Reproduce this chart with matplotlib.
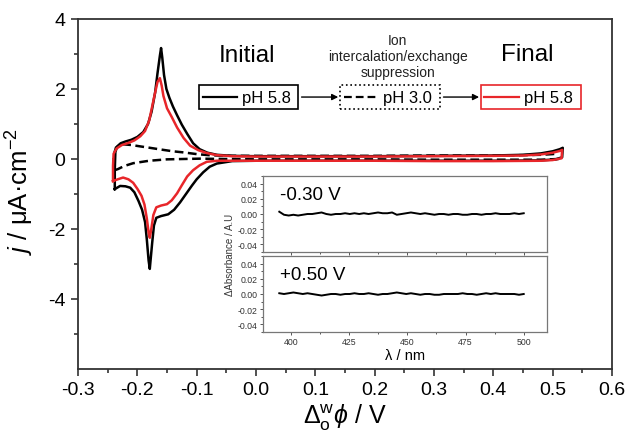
import numpy as np
import matplotlib
matplotlib.use("Agg")
import matplotlib.pyplot as plt
from matplotlib.patches import Rectangle

plt.rcParams['font.family'] = ['Liberation Sans', 'DejaVu Sans']
plt.rcParams['mathtext.fontset'] = 'custom'
plt.rcParams['mathtext.rm'] = 'Liberation Sans'
plt.rcParams['mathtext.it'] = 'Liberation Sans:italic'
plt.rcParams['mathtext.bf'] = 'Liberation Sans:bold'

# ---------------- data ----------------
# Initial pH 5.8 (black)
black_x = [-0.238, -0.238, -0.237, -0.234, -0.228, -0.220, -0.210, -0.200, -0.190, -0.182,
           -0.176, -0.170, -0.166, -0.162, -0.160, -0.158, -0.155, -0.151, -0.146, -0.140,
           -0.133, -0.125, -0.116, -0.106, -0.095, -0.082, -0.066, -0.040, 0.000, 0.100,
           0.200, 0.300, 0.400, 0.450, 0.480, 0.500, 0.512, 0.517,
           0.516, 0.505, 0.480, 0.400, 0.300, 0.200, 0.100, 0.000, -0.040, -0.066,
           -0.078, -0.089, -0.100, -0.108, -0.118, -0.128, -0.138, -0.148, -0.160, -0.168,
           -0.172, -0.175, -0.178, -0.179, -0.181, -0.184, -0.187, -0.192, -0.198, -0.205,
           -0.212, -0.220, -0.229, -0.238]
black_y = [-0.86, -0.30, 0.20, 0.36, 0.45, 0.50, 0.55, 0.63, 0.77, 1.00,
           1.35, 1.90, 2.45, 2.95, 3.17, 2.90, 2.40, 2.00, 1.75, 1.50,
           1.25, 0.98, 0.72, 0.45, 0.28, 0.18, 0.12, 0.09, 0.08, 0.08,
           0.08, 0.09, 0.10, 0.12, 0.16, 0.22, 0.28, 0.32,
           0.05, -0.01, -0.04, -0.05, -0.05, -0.05, -0.05, -0.05, -0.06, -0.13,
           -0.22, -0.38, -0.58, -0.76, -1.00, -1.24, -1.45, -1.58, -1.63, -1.68,
           -1.90, -2.40, -2.95, -3.14, -2.90, -2.30, -1.80, -1.45, -1.20, -0.95,
           -0.82, -0.78, -0.77, -0.86]

# Final pH 5.8 (red)
red_x = [-0.241, -0.241, -0.240, -0.235, -0.226, -0.215, -0.205, -0.195, -0.187, -0.180,
         -0.175, -0.170, -0.166, -0.162, -0.159, -0.156, -0.150, -0.142, -0.133, -0.122,
         -0.111, -0.097, -0.083, -0.066, -0.040, 0.000, 0.100, 0.200, 0.300, 0.400,
         0.450, 0.480, 0.500, 0.512, 0.516,
         0.515, 0.500, 0.480, 0.400, 0.300, 0.200, 0.100, 0.000, -0.040, -0.066,
         -0.083, -0.095, -0.106, -0.116, -0.125, -0.133, -0.142, -0.150, -0.160, -0.168,
         -0.173, -0.176, -0.179, -0.181, -0.184, -0.188, -0.193, -0.200, -0.207, -0.215,
         -0.224, -0.233, -0.241]
red_y = [-0.63, -0.20, 0.15, 0.30, 0.40, 0.46, 0.53, 0.65, 0.80, 1.10,
         1.50, 1.90, 2.20, 2.31, 2.10, 1.80, 1.45, 1.20, 0.90, 0.60,
         0.38, 0.25, 0.17, 0.11, 0.08, 0.07, 0.07, 0.07, 0.08, 0.09,
         0.10, 0.13, 0.18, 0.23, 0.26,
         0.02, -0.03, -0.05, -0.06, -0.06, -0.05, -0.05, -0.05, -0.05, -0.05,
         -0.08, -0.18, -0.32, -0.50, -0.75, -0.98, -1.18, -1.29, -1.33, -1.38,
         -1.60, -1.95, -2.25, -2.10, -1.70, -1.30, -1.05, -0.85, -0.68, -0.58,
         -0.53, -0.58, -0.63]

# pH 3.0 (dashed)
dash_x = [0.510, 0.480, 0.400, 0.300, 0.200, 0.100, 0.000, -0.050, -0.094, -0.123,
          -0.150, -0.180, -0.207, -0.222, -0.233, -0.240, -0.240, -0.236, -0.224, -0.210,
          -0.195, -0.179, -0.160, -0.140, -0.123, -0.100, -0.080, -0.066, -0.040, 0.000,
          0.100, 0.200, 0.300, 0.400, 0.450, 0.480, 0.500, 0.510]
dash_y = [0.00, -0.02, -0.02, -0.02, -0.01, -0.01, -0.01, 0.00, 0.01, 0.00,
          -0.01, -0.05, -0.12, -0.20, -0.29, -0.33, 0.10, 0.33, 0.42, 0.40,
          0.36, 0.32, 0.27, 0.22, 0.19, 0.14, 0.11, 0.10, 0.09, 0.09,
          0.09, 0.09, 0.10, 0.10, 0.11, 0.12, 0.14, 0.16]

# Inset spectra (delta absorbance, A.U), 395-500 nm
spec_neg030 = [0.003, -0.001, -0.002, -0.001, -0.002, -0.001, 0.000, 0.000, 0.001, 0.002,
               0.000, -0.001, 0.000, 0.000, 0.001, 0.000, 0.001, 0.000, 0.001, 0.000,
               0.001, 0.002, 0.001, 0.001, 0.002, -0.001, 0.000, 0.001, 0.002, 0.001,
               0.000, 0.001, 0.000, -0.001, 0.000, 0.000, -0.001, 0.000, 0.000, -0.001,
               -0.001, 0.000, 0.000, -0.001, 0.000, 0.000, 0.001, 0.000, 0.000, 0.000,
               0.001, 0.000, 0.001]
spec_pos050 = [0.001, 0.000, 0.001, 0.002, 0.001, 0.000, 0.001, 0.000, -0.001, -0.002,
               -0.001, 0.000, 0.000, -0.001, 0.000, 0.000, 0.001, 0.000, 0.000, 0.001,
               0.000, -0.001, 0.000, 0.000, 0.001, 0.002, 0.001, 0.000, 0.001, 0.000,
               -0.001, 0.000, 0.000, -0.001, -0.001, 0.000, 0.000, 0.000, 0.000, 0.001,
               0.000, 0.000, -0.001, 0.000, 0.001, 0.000, 0.001, 0.000, 0.000, 0.000,
               0.000, -0.001, 0.000]
spec_wl_range = (395, 500)

xticks_main = [-0.3, -0.2, -0.1, 0.0, 0.1, 0.2, 0.3, 0.4, 0.5, 0.6]
yticks_main = [-4, -2, 0, 2, 4]
inset_xticks = [400, 425, 450, 475, 500]
inset_yticks = [-0.04, -0.02, 0.00, 0.02, 0.04]
legend_labels = ['pH 5.8', 'pH 3.0', 'pH 5.8']

RED = '#e8262a'
SPINE = '#333333'

# ---------------- figure ----------------
fig = plt.figure(figsize=(6.27, 4.35), dpi=100)
ax = fig.add_axes([78/627, 1-370/435, 534/627, 350/435])

lw = 1.8
ax.plot(black_x, black_y, color='black', lw=lw, solid_joinstyle='round', zorder=3)
ax.plot(dash_x, dash_y, color='black', lw=lw, ls=(0, (3.5, 1.8)), zorder=3.5)
ax.plot(red_x, red_y, color=RED, lw=lw, solid_joinstyle='round', zorder=4)

ax.set_xlim(-0.3, 0.6)
ax.set_ylim(-6, 4)
ax.set_xticks(xticks_main)
ax.set_xticklabels([f"{v:.1f}" for v in xticks_main])
ax.set_xticks(np.arange(-0.25, 0.6, 0.1), minor=True)
ax.set_yticks(yticks_main)
ax.set_yticklabels([str(v) for v in yticks_main])
ax.set_yticks([-5, -3, -1, 1, 3], minor=True)
ax.tick_params(which='both', direction='out', color=SPINE, width=1.2, labelsize=14, pad=4)
ax.tick_params(which='major', length=5)
ax.tick_params(which='minor', length=3)
for s in ax.spines.values():
    s.set_color(SPINE)
    s.set_linewidth(1.3)

ax.set_ylabel(r"$j$ / μA·cm$^{-2}$", fontsize=18.5)
ax.yaxis.set_label_coords(-0.078, 0.51)
ax.set_xlabel(r"$\Delta_\mathrm{o}^\mathrm{w}\phi$ / V", fontsize=18, labelpad=2)

# annotations
ax.text(-0.015, 2.97, "Initial", fontsize=17.5, ha='center', va='center')
ax.text(0.458, 3.0, "Final", fontsize=17.5, ha='center', va='center')
ax.text(0.239, 2.95, "Ion\nintercalation/exchange\nsuppression", fontsize=10,
        ha='center', va='center', linespacing=1.2, color='#222222')

ybox0, ybox1 = 1.43, 2.11
ymid = (ybox0 + ybox1) / 2
boxes = [(-0.096, 0.0708, 'black', '-', 'black', '-'),
         (0.1416, 0.310, 'black', ':', 'black', (0, (3.5, 1.8))),
         (0.379, 0.548, RED, '-', RED, '-')]
for (x0, x1, ec, els, lc, lls), lab in zip(boxes, legend_labels):
    ax.add_patch(Rectangle((x0, ybox0), x1 - x0, ybox1 - ybox0, fill=False,
                           ec=ec, ls=els, lw=1.2, zorder=6))
    ax.plot([x0 + 0.006, x0 + 0.064], [ymid, ymid], color=lc, ls=lls, lw=1.6, zorder=6)
    ax.text(x0 + 0.072, ymid - 0.02, lab, fontsize=12, ha='left', va='center', zorder=6)

for xa, xb in [(0.0708, 0.1416), (0.310, 0.379)]:
    ax.annotate("", xy=(xb - 0.003, ymid), xytext=(xa + 0.006, ymid),
                arrowprops=dict(arrowstyle='-|>', color='black', lw=1.0,
                                mutation_scale=9, shrinkA=0, shrinkB=0))

# ---------------- inset ----------------
ins_l, ins_w = 263/627, 284/627
ins_h = 76/435
ax1 = fig.add_axes([ins_l, 1-253/435, ins_w, ins_h])
ax2 = fig.add_axes([ins_l, 1-333/435, ins_w, ins_h])
wl1 = np.linspace(spec_wl_range[0], spec_wl_range[1], len(spec_neg030))
wl2 = np.linspace(spec_wl_range[0], spec_wl_range[1], len(spec_pos050))
ax1.plot(wl1, spec_neg030, color='black', lw=1.4)
ax2.plot(wl2, spec_pos050, color='black', lw=1.4)
for a, lab in [(ax1, "-0.30 V"), (ax2, "+0.50 V")]:
    a.set_xlim(388, 510)
    a.set_ylim(-0.05, 0.05)
    a.set_xticks(inset_xticks)
    a.set_xticks(np.arange(412.5, 500, 25), minor=True)
    a.set_yticks(inset_yticks)
    a.set_yticklabels([f"{v:.2f}" for v in inset_yticks])
    a.set_yticks(np.arange(-0.05, 0.051, 0.01), minor=True)
    a.tick_params(which='both', direction='out', labelsize=6.3, color='#555555',
                  labelcolor='#333333', width=0.7, pad=1.2)
    a.tick_params(which='major', length=2.5)
    a.tick_params(which='minor', length=1.5)
    for s in a.spines.values():
        s.set_color('#777777')
        s.set_linewidth(0.9)
    a.text(0.06, 0.76, lab, transform=a.transAxes, fontsize=13.5, ha='left', va='center')
ax1.tick_params(axis='x', labelbottom=False)
ax2.set_xticklabels([str(v) for v in inset_xticks])
ax2.set_xlabel("λ / nm", fontsize=10.5, labelpad=1)
fig.text(230/627, 1-255/435, "ΔAbsorbance / A.U", rotation=90, fontsize=7,
         ha='center', va='center', color='#333333')

fig.savefig("out.png", dpi=100)
